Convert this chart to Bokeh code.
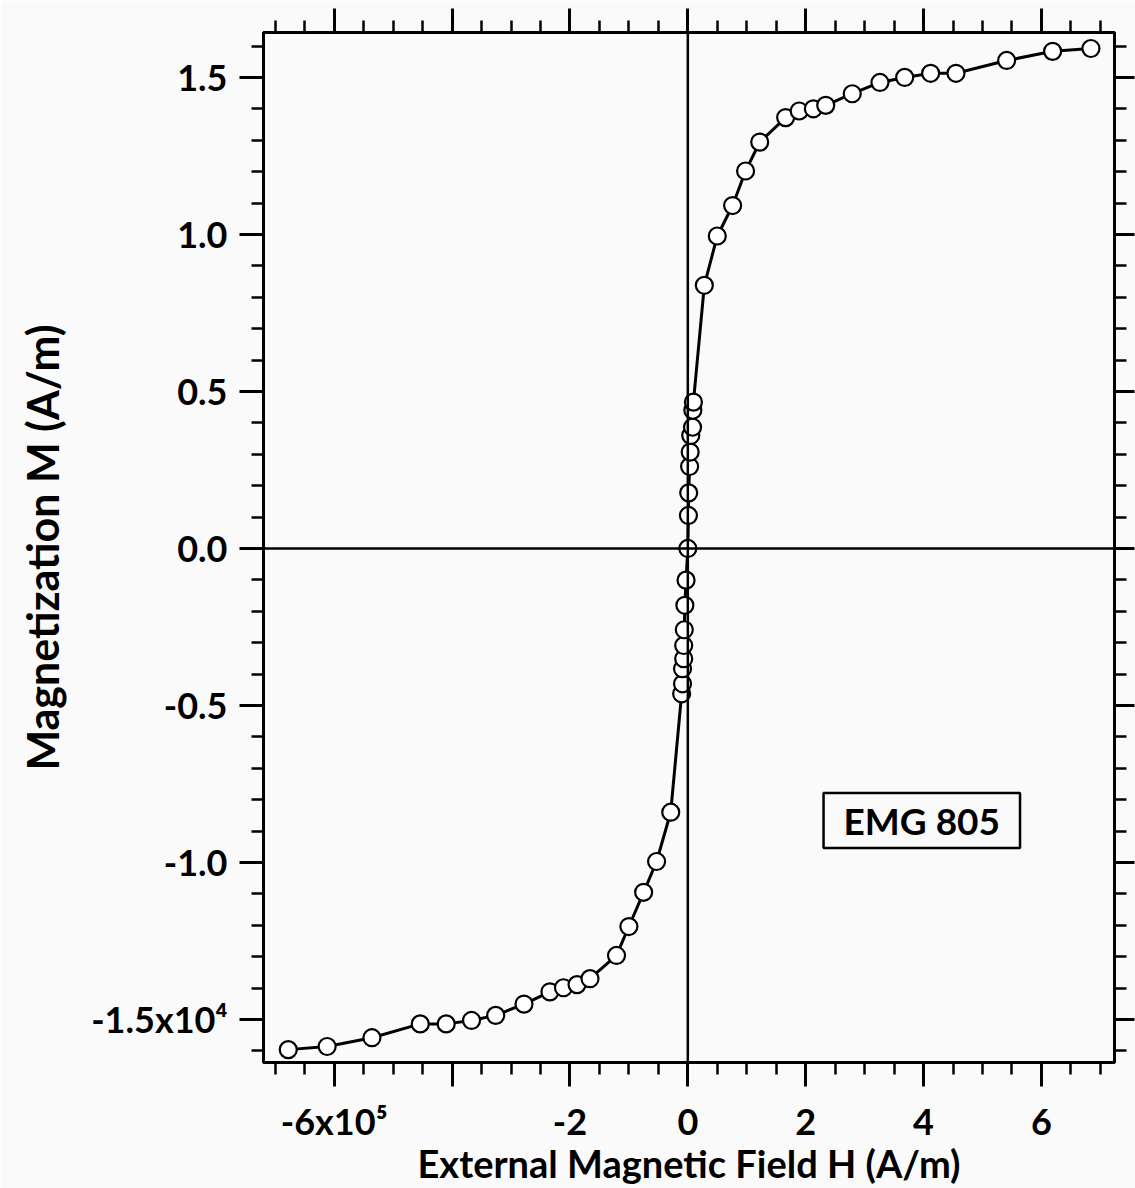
import numpy as np
from bokeh.plotting import figure
from bokeh.models import Range1d, LinearAxis, FixedTicker, CustomJSTickFormatter, Span, Label
from bokeh.embed import file_html
from bokeh.resources import INLINE

# External magnetic field H (x10^5 A/m)
H_field = [-6.78, -6.12, -5.36, -4.54, -4.10, -3.67, -3.26, -2.78, -2.34, -2.11,
           -1.88, -1.66, -1.21, -1.00, -0.75, -0.53, -0.29,
           -0.105, -0.09, -0.09, -0.07, -0.07, -0.06, -0.05, -0.03,
           0.0,
           0.01, 0.015, 0.03, 0.04, 0.05, 0.08, 0.085, 0.095,
           0.28, 0.50, 0.76, 0.98, 1.22, 1.66, 1.89, 2.13, 2.34, 2.79,
           3.26, 3.68, 4.12, 4.55, 5.41, 6.19, 6.84]
# Magnetization M (x10^4 A/m)
M_mag = [-1.596, -1.586, -1.558, -1.514, -1.514, -1.503, -1.487, -1.451, -1.412, -1.399,
         -1.389, -1.370, -1.296, -1.204, -1.095, -0.997, -0.840,
         -0.463, -0.431, -0.383, -0.351, -0.309, -0.259, -0.181, -0.101,
         0.0,
         0.105, 0.177, 0.261, 0.307, 0.360, 0.386, 0.440, 0.466,
         0.838, 0.995, 1.092, 1.202, 1.294, 1.372, 1.393, 1.400, 1.411, 1.448,
         1.484, 1.500, 1.513, 1.513, 1.554, 1.583, 1.592]

x_ticks = [-6, -4, -2, 0, 2, 4, 6]
x_tick_labels = ["-6x10\u2075", "", "-2", "0", "2", "4", "6"]
y_ticks = [-1.5, -1.0, -0.5, 0.0, 0.5, 1.0, 1.5]
y_tick_labels = ["-1.5x10\u2074", "-1.0", "-0.5", "0.0", "0.5", "1.0", "1.5"]

x_title = "External Magnetic Field H (A/m)"
y_title = "Magnetization M (A/m)"
sample_name = "EMG 805"

FONT = "Lato"
BG = "#fafafa"

p = figure(width=1135, height=1188,
           x_range=Range1d(-7.2, 7.24), y_range=Range1d(-1.637, 1.643),
           output_backend="svg", toolbar_location=None,
           min_border_left=263, min_border_right=21, min_border_top=32, min_border_bottom=126,
           background_fill_color=BG, border_fill_color=BG)
p.grid.visible = False
p.outline_line_color = "black"
p.outline_line_width = 3

x_minor = list(np.arange(-7.0, 7.01, 0.5))
y_minor = list(np.round(np.arange(-1.6, 1.61, 0.1), 2))

def style_axis(ax, major_out, minor_out):
    ax.axis_line_width = 3
    ax.axis_line_color = "black"
    ax.major_tick_in = 0
    ax.minor_tick_in = 0
    ax.major_tick_out = major_out
    ax.minor_tick_out = minor_out
    ax.major_tick_line_width = 3
    ax.minor_tick_line_width = 2.5
    ax.major_label_text_font = FONT
    ax.major_label_text_font_style = "bold"
    ax.major_label_text_font_size = "36px"
    ax.major_label_text_color = "black"
    ax.axis_label_text_font = FONT
    ax.axis_label_text_font_style = "bold"
    ax.axis_label_text_font_size = "38px"
    ax.axis_label_text_color = "black"

xa = p.xaxis[0]
xa.ticker = FixedTicker(ticks=x_ticks, minor_ticks=x_minor)
xa.major_label_overrides = dict(zip(x_ticks, x_tick_labels))
xa.axis_label = x_title
style_axis(xa, 24, 12)
xa.major_label_standoff = 12
xa.axis_label_standoff = -6

ya = p.yaxis[0]
ya.ticker = FixedTicker(ticks=y_ticks, minor_ticks=y_minor)
ya.major_label_overrides = dict(zip(y_ticks, y_tick_labels))
ya.axis_label = y_title
style_axis(ya, 24, 12)
ya.axis_label_text_font_size = "43px"
ya.major_label_standoff = 12
ya.axis_label_standoff = 20

blank = "return ''"
top = LinearAxis(ticker=FixedTicker(ticks=x_ticks, minor_ticks=x_minor),
                 formatter=CustomJSTickFormatter(code=blank))
style_axis(top, 24, 12)
top.major_label_text_font_size = "1px"
top.major_label_standoff = 0
p.add_layout(top, "above")

right = LinearAxis(ticker=FixedTicker(ticks=y_ticks, minor_ticks=y_minor),
                   formatter=CustomJSTickFormatter(code=blank))
style_axis(right, 20, 12)
right.major_label_text_font_size = "1px"
right.major_label_standoff = 0
p.add_layout(right, "right")

p.add_layout(Span(location=0, dimension="height", line_color="black", line_width=2.5))
p.add_layout(Span(location=0, dimension="width", line_color="black", line_width=2.5))

p.line(H_field, M_mag, line_color="black", line_width=3)
p.scatter(H_field, M_mag, size=17, fill_color="white", line_color="black", line_width=2.2)

p.add_layout(Label(x=3.97, y=-0.866, text=sample_name, text_align="center", text_baseline="middle",
                   text_font=FONT, text_font_style="bold", text_font_size="37px", text_color="black",
                   border_line_color="black", border_line_width=2.5,
                   background_fill_color=BG, padding=(20, 5)))

open("out.html", "w").write(file_html(p, INLINE))
